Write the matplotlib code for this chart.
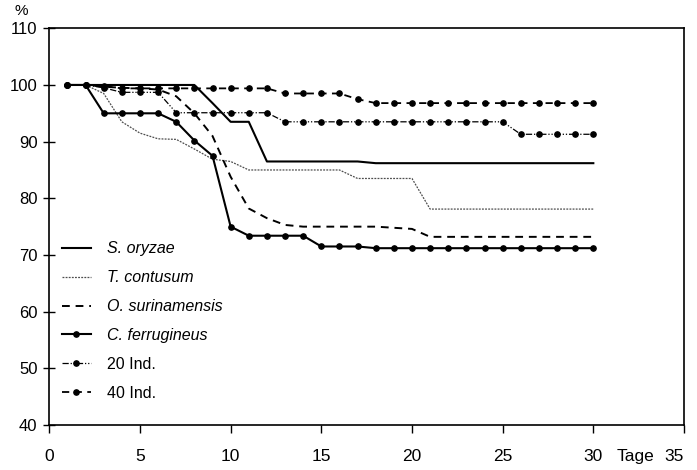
import matplotlib
matplotlib.use("Agg")
import matplotlib.pyplot as plt

plt.rcParams["font.family"] = ["Liberation Sans", "DejaVu Sans"]

days = list(range(1, 31))

s_oryzae = [100] * 8 + [96.8, 93.5, 93.5] + [86.5] * 6 + [86.2] * 13
t_contusum = [100, 100, 98.5, 93.5, 91.5, 90.5, 90.4, 88.7, 86.9, 86.5, 85.0] \
    + [85.0] * 5 + [83.5] * 4 + [78.1] * 10
o_surinamensis = [100, 100, 99.7, 99.5, 99.4, 99.2, 98.0, 95.0, 91.0, 83.8, 78.2, 76.5, 75.3] \
    + [75.0] * 5 + [74.8, 74.6] + [73.2] * 10
c_ferrugineus = [100, 100, 95, 95, 95, 95, 93.5, 90.2, 87.5, 75.0] \
    + [73.4] * 4 + [71.5] * 3 + [71.2] * 13
ind20 = [100, 100, 99.5, 98.7, 98.7, 98.7] + [95.1] * 6 + [93.5] * 13 + [91.3] * 5
ind40 = [100, 100, 99.8] + [99.4] * 9 + [98.5] * 4 + [97.5] + [96.8] * 13

labels = ["S. oryzae", "T. contusum", "O. surinamensis", "C. ferrugineus",
          "20 Ind.", "40 Ind."]

x_ticks = [0, 5, 10, 15, 20, 25, 30, 35]
y_ticks = [40, 50, 60, 70, 80, 90, 100, 110]

fig = plt.figure(figsize=(6.97, 4.70), dpi=100)
ax = fig.add_axes([49.3 / 697, 45 / 470, (684 - 49.3) / 697, (425 - 28.3) / 470])

k = "black"
h1, = ax.plot(days, s_oryzae, color=k, lw=1.5, ls="-")
h2, = ax.plot(days, t_contusum, color="0.3", lw=0.9, ls=(0, (1.5, 1.0)))
h3, = ax.plot(days, o_surinamensis, color=k, lw=1.4, ls=(0, (4, 3)))
h4, = ax.plot(days, c_ferrugineus, color=k, lw=1.5, ls="-",
              marker="o", ms=3.8)
h5, = ax.plot(days, ind20, color=k, lw=0.9, ls=(0, (5, 1.5, 1, 1.5, 1, 1.5)),
              marker="o", ms=3.8)
h6, = ax.plot(days, ind40, color=k, lw=1.3, ls=(0, (4, 3)),
              marker="o", ms=3.8)

ax.set_xlim(0, 35)
ax.set_ylim(40, 110)
ax.set_xticks(x_ticks)
ax.set_yticks(y_ticks)
ax.set_xticklabels([str(t) for t in x_ticks], fontsize=12.5)
ax.set_yticklabels([str(t) for t in y_ticks], fontsize=12)
ax.get_xticklabels()[-1].set_horizontalalignment("right")
ax.tick_params(axis="x", direction="out", length=6, width=1, pad=11)
ax.tick_params(axis="y", direction="inout", length=9, width=1, pad=4)
for sp in ax.spines.values():
    sp.set_linewidth(1.2)

ax.text(32.3, -0.079, "Tage", transform=ax.get_xaxis_transform(),
        ha="center", va="center", fontsize=12.5)
fig.text(21 / 697, 1 - 11 / 470, "%", ha="center", va="center", fontsize=11)

leg = ax.legend([h1, h2, h3, h4, h5, h6], labels, loc="upper left",
                bbox_to_anchor=(0.02, 0.463), frameon=False, borderaxespad=0,
                borderpad=0, handlelength=1.8, handletextpad=1.0,
                labelspacing=0.87, numpoints=1, fontsize=11.5)
for t in leg.get_texts()[:4]:
    t.set_fontstyle("italic")

fig.savefig("out.png", dpi=100)
